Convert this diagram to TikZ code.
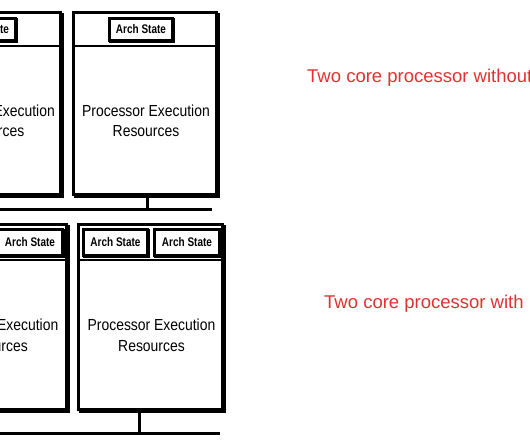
\documentclass[tikz,border=0pt]{standalone}
\usepackage{fontspec}
\usepackage{tikz}
\newfontfamily\CoreFont[FakeStretch=0.87]{Liberation Sans}
\newfontfamily\ArchFont[FakeStretch=0.8]{Liberation Sans Bold}
\newfontfamily\NoteFont{Liberation Sans}
\definecolor{ColNote}{RGB}{224,49,49}
\tikzstyle{CoreBox}=[rectangle,draw=black,fill=white,line width=3pt,inner sep=0pt,
minimum width=143pt,minimum height=182pt,
preaction={draw=black,fill=black,transform canvas={shift={(2pt,-2pt)}}}]
\tikzstyle{ArchBox}=[rectangle,draw=black,fill=white,line width=2.5pt,inner sep=0pt,
minimum width=63pt,minimum height=22pt,font=\ArchFont\fontsize{12.5}{14}\selectfont,
preaction={draw=black,fill=black,transform canvas={shift={(1pt,-1pt)}}}]
\tikzstyle{CoreText}=[align=center,inner sep=0pt,font=\CoreFont\fontsize{16}{20}\selectfont]
\tikzstyle{NoteText}=[anchor=west,inner sep=0pt,text=ColNote,font=\NoteFont\fontsize{18.5}{22}\selectfont]
\tikzstyle{Divider}=[black,line width=2pt]
\tikzstyle{Bus}=[black,line width=3pt]

\begin{document}
\begin{tikzpicture}[x=1pt,y=-1pt]
    \useasboundingbox (0,0) rectangle (530,442);
    \clip (0,0) rectangle (530,442);
    % two cores, one arch state each
    \node[CoreBox](coreA1)at(-11,103.5){};
    \node[CoreBox](coreA2)at(145,103.5){};
    \draw[Divider]([yshift=-34.5pt]coreA1.north west)--([yshift=-34.5pt]coreA1.north east);
    \draw[Divider]([yshift=-34.5pt]coreA2.north west)--([yshift=-34.5pt]coreA2.north east);
    \node[ArchBox](archA1)at(-16,29.5){Arch State};
    \node[ArchBox](archA2)at(141,29.5){Arch State};
    \node[CoreText](resA1)at(-9,121){Processor Execution\\Resources};
    \node[CoreText](resA2)at(146,121){Processor Execution\\Resources};
    \coordinate(busAL)at(-120,209);
    \coordinate(busAR)at(212,209);
    \draw[Bus](busAL)--(busAR);
    \draw[Bus]([xshift=2.5pt]coreA1.south)--([xshift=2.5pt]coreA1.south |- busAR);
    \draw[Bus]([xshift=2.5pt]coreA2.south)--([xshift=2.5pt]coreA2.south |- busAR);
    \node[NoteText](noteA)at(307,78){Two core processor without};
    % two cores, two arch states each
    \node[CoreBox,minimum width=144pt,minimum height=185pt](coreB1)at(-5.5,317){};
    \node[CoreBox,minimum width=144pt,minimum height=185pt](coreB2)at(150.5,317){};
    \draw[Divider]([yshift=-36.5pt]coreB1.north west)--([yshift=-36.5pt]coreB1.north east);
    \draw[Divider]([yshift=-36.5pt]coreB2.north west)--([yshift=-36.5pt]coreB2.north east);
    \node[ArchBox,minimum width=64pt,minimum height=26pt](archB1)at(-41.5,242.5){Arch State};
    \node[ArchBox,minimum width=65pt,minimum height=26pt](archB2)at(30,242.5){Arch State};
    \node[ArchBox,minimum width=64pt,minimum height=26pt](archB3)at(115.5,242.5){Arch State};
    \node[ArchBox,minimum width=65pt,minimum height=26pt](archB4)at(187,242.5){Arch State};
    \node[CoreText,font=\CoreFont\fontsize{16}{21}\selectfont](resB1)at(-5.5,335.5){Processor Execution\\Resources};
    \node[CoreText,font=\CoreFont\fontsize{16}{21}\selectfont](resB2)at(151.5,335.5){Processor Execution\\Resources};
    \coordinate(busBL)at(-120,433);
    \coordinate(busBR)at(220,433);
    \draw[Bus](busBL)--(busBR);
    \draw[Bus]([xshift=-11.5pt]coreB1.south)--([xshift=-11.5pt]coreB1.south |- busBR);
    \draw[Bus]([xshift=-11.5pt]coreB2.south)--([xshift=-11.5pt]coreB2.south |- busBR);
    \node[NoteText](noteB)at(324,304){Two core processor with};
\end{tikzpicture}
\end{document}
